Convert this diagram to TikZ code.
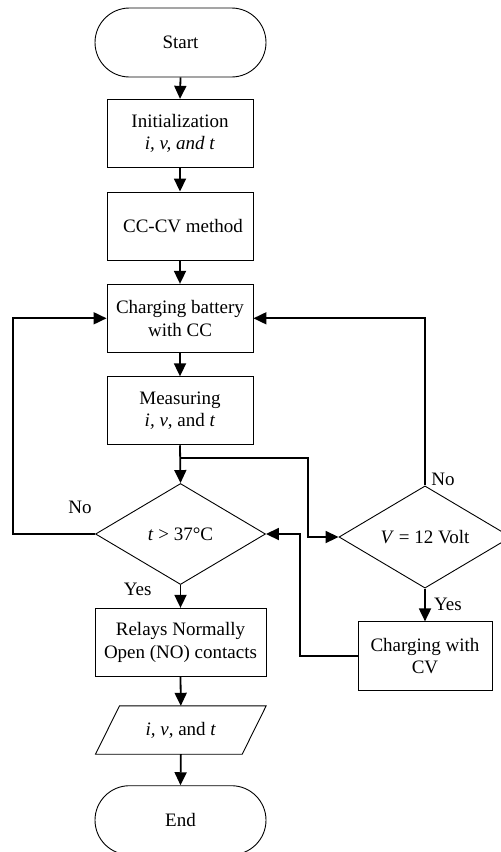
\documentclass[tikz,border=0pt]{standalone}
\usepackage{fontspec}
\setmainfont{Liberation Serif}
\usetikzlibrary{shapes.geometric,arrows.meta}
\begin{document}
\begin{tikzpicture}[x=1pt,y=-1pt,
  every node/.style={font=\fontsize{19}{22.7}\selectfont},
  box/.style={draw,line width=0.9pt,rectangle,align=center,inner sep=0pt},
  term/.style={box,minimum width=171pt,minimum height=69pt,rounded corners=34.5pt},
  proc/.style={box,minimum width=146pt,minimum height=68pt},
  dec/.style={draw,line width=0.9pt,diamond,inner sep=0pt,align=center},
  arr/.style={line width=1.8pt,-{Triangle[length=13pt,width=12pt]}},
  lbl/.style={inner sep=0pt}]
\useasboundingbox (0,0) rectangle (501,852);
\node[term] (start) at (180.5,42.5) {Start};
\node[proc] (init) at (180,133.3) {Initialization\\\textit{i, v, and t}};
\node[proc] (cccv) at (180,226) {\hspace{6pt}CC-CV method};
\node[proc] (chg) at (180,318.3) {Charging battery\\with CC};
\node[proc] (meas) at (180,410.8) {Measuring\\\textit{i, v}, and \textit{t}};
\node[dec,minimum width=170pt,minimum height=101pt] (d1) at (180.5,534) {\textit{t} > 37°C};
\node[dec,minimum width=172pt,minimum height=101pt] (d2) at (425,537) {\textit{V} = 12 Volt};
\node[proc,minimum width=171pt] (relay) at (180.5,642.3) {Relays Normally\\Open (NO) contacts};
\node[inner sep=0pt,minimum width=170.3pt,minimum height=48pt] (para) at (180.85,730) {\textit{i, v}, and \textit{t}};
\draw[line width=0.9pt] (para.south west) -- ([xshift=-24pt]para.south east) -- (para.north east) -- ([xshift=24pt]para.north west) -- cycle;
\node[term] (end) at (180.5,820.2) {End};
\node[proc,minimum width=134pt,minimum height=68.3pt] (cv) at (425,656) {Charging with\\CV};
% connectors
\draw[arr] (start.south) -- (init.north);
\draw[arr] (init.south) -- (cccv.north);
\draw[arr] (cccv.south) -- (chg.north);
\draw[arr] (chg.south) -- (meas.north);
\draw[arr] (meas.south) -- (d1.north);
\draw[arr] (d1.south) -- (relay.north);
\draw[arr] (relay.south) -- (para.north);
\draw[arr] (para.south) -- (end.north);
\coordinate (lx) at (12.7,534);
\draw[arr] (d1.west) -- (lx) |- (chg.west);
\draw[arr] (d2.north) |- (chg.east);
\coordinate (b1) at (180,457.7);
\coordinate (bx) at (308.3,457.7);
\draw[arr] (b1) -- (bx) |- (d2.west);
\coordinate (cx) at (300,656);
\draw[arr] (cv.west) -- (cx) |- (d1.east);
\draw[arr] (d2.south) -- (cv.north);
% labels
\node[lbl] (no1) at (80,507.7) {No};
\node[lbl] (yes1) at (137.7,589) {Yes};
\node[lbl] (no2) at (443,479) {No};
\node[lbl] (yes2) at (448,604) {Yes};
\end{tikzpicture}
\end{document}
